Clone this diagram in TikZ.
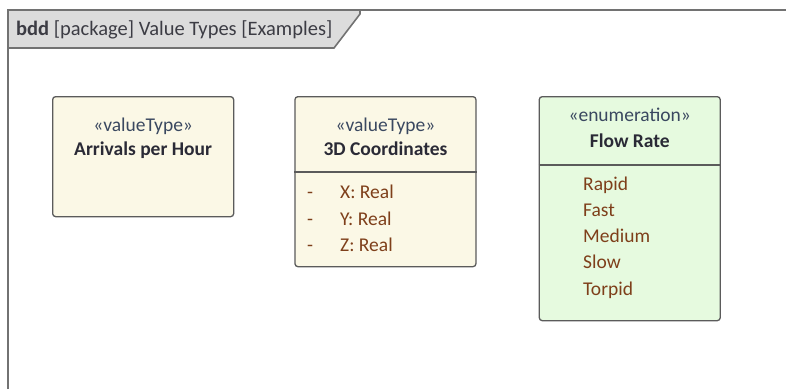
\documentclass[tikz,border=0pt]{standalone}
\usepackage{fontspec}
\setmainfont{Carlito}
\usetikzlibrary{positioning,calc}
\definecolor{framec}{HTML}{727272}
\definecolor{tabfill}{HTML}{DCDCDC}
\definecolor{vtfill}{HTML}{FBF8E6}
\definecolor{enumfill}{HTML}{E6FADF}
\definecolor{titlec}{HTML}{3C3C44}
\definecolor{stereoc}{HTML}{3A4860}
\definecolor{namec}{HTML}{2A2A36}
\definecolor{attrc}{HTML}{7E3F1A}
\tikzset{
  frame/.style={draw=framec, line width=1.6pt},
  blockbox/.style={draw=framec!80!black, line width=1.3pt, rounded corners=3pt,
              anchor=north west, minimum width=181pt, inner sep=0pt},
  vtbox/.style={blockbox, fill=vtfill},
  enumbox/.style={blockbox, fill=enumfill},
  divider/.style={draw=framec!80!black, line width=1.3pt},
  stereo/.style={text=stereoc, font=\fontsize{19.5}{22}\selectfont, inner sep=0pt, anchor=base},
  bname/.style={text=namec, font=\fontsize{19.5}{22}\selectfont\bfseries, inner sep=0pt, anchor=base},
  attr/.style={text=attrc, font=\fontsize{19.5}{22}\selectfont, inner sep=0pt, anchor=base west},
}

\begin{document}
\begin{tikzpicture}[x=1pt, y=-1pt, node distance=60pt]
\useasboundingbox (0,0) rectangle (786,389);
% diagram frame and its header tab
\filldraw[frame, fill=tabfill] (8,10) -- (360,10) -- (360,14) -- (334,48) -- (8,48);
\draw[frame] (8,389) -- (8,10) -- (786,10);
\node[anchor=base west, inner sep=0pt, text=titlec, font=\fontsize{20.5}{24}\selectfont] (title) at (16,35)
  {\textbf{bdd} [package] Value Types [Examples]};

% blocks
\node[vtbox, minimum height=120pt] (arr) at (52,96) {};
\node[vtbox, minimum height=170pt, right=of arr.north east, anchor=north west] (coor) {};
\node[enumbox, minimum height=224pt, right=62pt of coor.north east, anchor=north west] (flow) {};

\node[stereo] (arrst) at (arr.center |- 0,131) {«valueType»};
\node[bname] (arrnm) at (arr.center |- 0,155) {Arrivals per Hour};

\node[stereo] (coorst) at (coor.center |- 0,131) {«valueType»};
\node[bname] (coornm) at (coor.center |- 0,155) {3D Coordinates};
\draw[divider] ($(coor.north west)+(0,76)$) -- ($(coor.north east)+(0,76)$);
\foreach \a [count=\i] in {X,Y,Z} {
  \node[attr] (dash\i) at (307,{172+26.5*\i}) {-};
  \node[attr] (attr\i) at (340,{172+26.5*\i}) {\a: Real};
}

\node[stereo] (flowst) at (flow.center |- 0,121) {«enumeration»};
\node[bname] (flownm) at (flow.center |- 0,147) {Flow Rate};
\draw[divider] ($(flow.north west)+(0,69)$) -- ($(flow.north east)+(0,69)$);
\foreach \v [count=\i] in {Rapid,Fast,Medium,Slow,Torpid} {
  \node[attr] (lit\i) at (583,{164+26.2*\i}) {\v};
}
\end{tikzpicture}
\end{document}
